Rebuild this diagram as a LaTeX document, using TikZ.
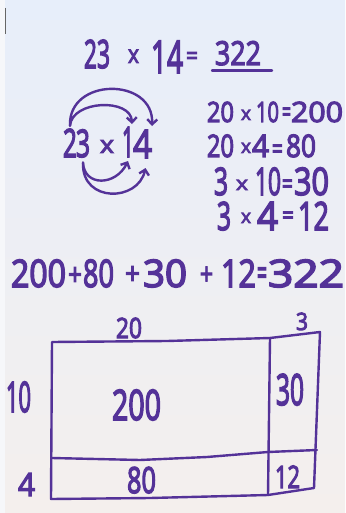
\documentclass[tikz,border=0pt]{standalone}
\usepackage{fontspec}
\usepackage{graphicx}
\usetikzlibrary{arrows.meta}
\newfontfamily\hand{Open Sans}[FakeBold=4]
\definecolor{inkc}{RGB}{84,50,152}
\definecolor{papertop}{RGB}{231,238,250}
\definecolor{papermid}{RGB}{245,246,251}
\definecolor{paperbot}{RGB}{244,239,237}
\definecolor{stripc}{RGB}{246,247,250}
% name, x-left, x-right, baseline, font size, text
\newcommand\tk[6]{%
  \pgfmathsetmacro\tkw{#3-#2}%
  \node[ink, anchor=base west] (#1) at (#2,#4) {\resizebox{\tkw pt}{\height}{\fontsize{#5pt}{#5pt}\selectfont #6}};}
\tikzset{
  ink/.style={inner sep=0pt, outer sep=0pt, text=inkc, font=\hand},
  pen/.style={draw=inkc, line width=2.4pt, line cap=round, line join=round},
  arcpen/.style={pen, -{Straight Barb[length=5pt,width=10pt]}}
}
\begin{document}
\begin{tikzpicture}[x=1pt,y=-1pt]
\useasboundingbox (0,0) rectangle (345,513);
% paper
\shade[top color=papertop, middle color=papermid, bottom color=paperbot] (0,0) rectangle (345,513);
\fill[stripc] (0,0) rectangle (5,513);
\draw[black!60, line width=1.2pt] (5.5,8) -- (5.5,34);

% title
\tk{t23}{84}{110}{68}{39}{23}
\tk{tx}{128}{139}{63}{25}{x}
\tk{t14}{151}{183}{73}{45}{14}
\tk{teq}{186}{198}{64.3}{25}{=}
\tk{t322}{215}{261}{65}{33}{322}
\draw[pen] ([xshift=-3pt,yshift=-5pt]t322.south west) -- ([xshift=11pt,yshift=-5pt]t322.south east);

% left expression with arcs
\tk{l2}{63}{77}{157}{39}{2}
\tk{l3}{76}{90}{157}{38}{3}
\tk{lx}{100}{114}{153}{24}{x}
\tk{l1}{122}{134}{157}{42}{1}
\tk{l4}{133}{152}{158}{39}{4}
\draw[arcpen] ([yshift=3pt]l2.north) .. controls (68,77) and (154,77) .. ([yshift=4pt]l4.north east);
\draw[arcpen] ([yshift=3pt]l2.north) .. controls (72,100) and (131,98) .. ([xshift=4pt,yshift=3pt]l1.north);
\draw[arcpen] ([yshift=-5pt]l3.south) .. controls (84,187) and (116,186) .. ([yshift=-4pt]l1.south);
\draw[arcpen] ([yshift=-6pt]l3.south) .. controls (82,203) and (138,202) .. ([xshift=3pt,yshift=-10pt]l4.south);

% right column
\tk{a20}{207}{234}{122}{28}{20}
\tk{ax}{241}{251}{120}{19}{x}
\tk{a10}{256}{279}{122}{28}{10}
\tk{aeq}{282}{291}{121.7}{29}{=}
\tk{a200}{291}{343}{122}{28}{200}

\tk{b20}{207}{234}{157}{31}{20}
\tk{bx}{241}{251}{153}{19}{x}
\tk{b4}{252}{269}{157}{31}{4}
\tk{beq}{272}{283}{158.7}{29}{=}
\tk{b80}{286}{316}{157}{31}{80}

\tk{c3}{214}{228}{195}{38}{3}
\tk{cx}{236}{248}{190}{19}{x}
\tk{c10}{255}{281}{195}{38}{10}
\tk{ceq}{282}{293}{193.7}{29}{=}
\tk{c30}{294}{329}{195}{38}{30}

\tk{d3}{217}{231}{230}{39}{3}
\tk{dx}{241}{251}{223}{19}{x}
\tk{d4}{257}{278}{230}{39}{4}
\tk{deq}{282}{294}{223.8}{25}{=}
\tk{d12}{298}{329}{230}{39}{12}

% sum line
\tk{s200}{11}{66}{287}{38}{200}
\tk{sp1}{68}{82}{285}{30}{+}
\tk{s80}{83}{114}{287}{38}{80}
\tk{sp2}{125}{140}{284}{30}{+}
\tk{s30}{143}{187}{287}{38}{30}
\tk{sp3}{200}{213}{284.5}{30}{+}
\tk{s12}{221}{256}{287}{38}{12}
\tk{seq}{257}{267}{285.5}{37}{=}
\tk{s322}{268}{344}{287}{38}{322}

% area model
\draw[pen] (52,342) -- (167,341) -- (270,338) -- (320,332) -- (317,410) -- (314,488) -- (268,495) -- (150,498) -- (51,499) -- cycle;
\draw[pen] (270,338) -- (268,495);
\draw[pen] (52,458) -- (140,460) -- (207,457) -- (268,452) -- (317,450);
\tk{r20}{116}{142}{338}{28}{20}
\tk{r3}{296}{308}{330}{24}{3}
\tk{r10}{6}{31}{412}{42}{10}
\tk{r200}{112}{161}{420}{42}{200}
\tk{r30}{276}{304}{405}{43}{30}
\tk{r80}{127}{156}{493}{36}{80}
\tk{r12}{275}{300}{488}{31}{12}
\tk{r4}{18}{35}{496}{32}{4}
\end{tikzpicture}
\end{document}
